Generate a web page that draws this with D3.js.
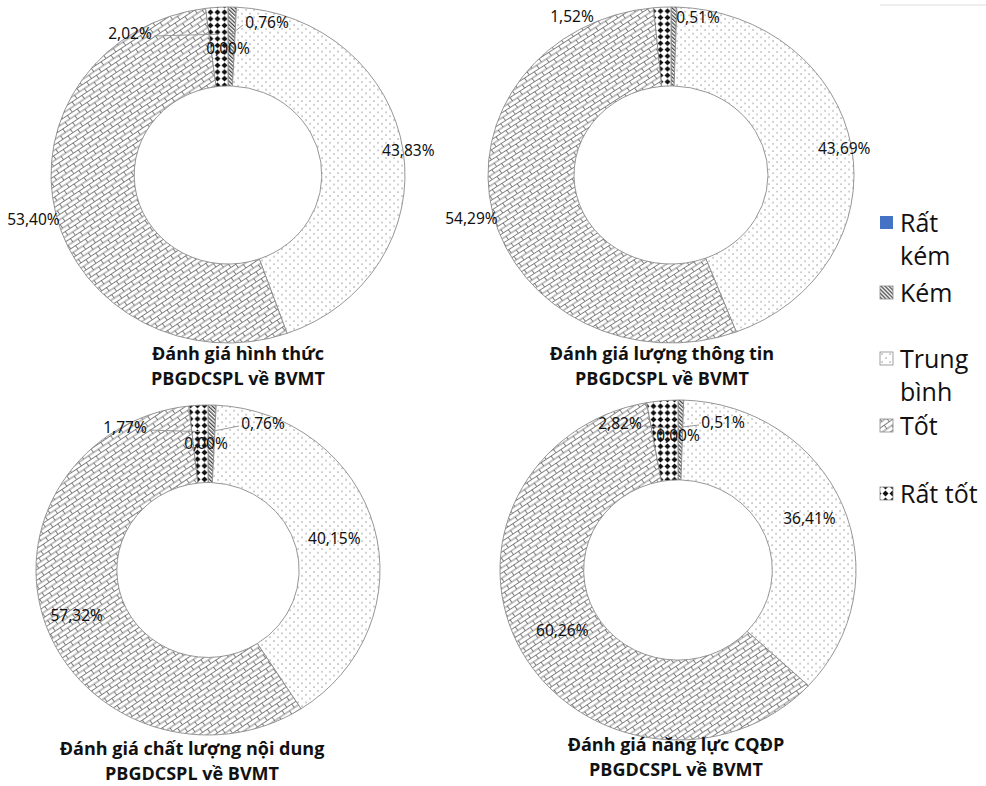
<!DOCTYPE html>
<html>
<head>
<meta charset="utf-8">
<script src="https://cdn.jsdelivr.net/npm/d3@7"></script>
<style>
  html, body { margin: 0; padding: 0; background: #fff; }
  svg { display: block; }
</style>
</head>
<body>
<svg id="chart" width="986" height="786"></svg>
<script>
// Survey ratings, share of answers (%) per rating level
const categories = ["Rất kém", "Kém", "Trung bình", "Tốt", "Rất tốt"];
const hinhThuc      = [0, 0.76, 43.83, 53.40, 2.02];
const luongThongTin = [0, 0.51, 43.69, 54.29, 1.52];
const chatLuong     = [0, 0.76, 40.15, 57.32, 1.77];
const nangLuc       = [0, 0.51, 36.41, 60.26, 2.82];
const chartTitles = [
  ["Đánh giá hình thức", "PBGDCSPL về BVMT"],
  ["Đánh giá lượng thông tin", "PBGDCSPL về BVMT"],
  ["Đánh giá chất lượng nội dung", "PBGDCSPL về BVMT"],
  ["Đánh giá năng lực CQĐP", "PBGDCSPL về BVMT"]
];
const seriesList = [hinhThuc, luongThongTin, chatLuong, nangLuc];

// Placement of each doughnut and its labels
const layout = [
  { cx: 228, cy: 175, rx: 177, ry: 168, bigR: [1.03, 1.13], titleX: 238, titleY: 360,
    small: { 0: [0, -127], 1: [39, -153], 4: [-98, -142] } },
  { cx: 671, cy: 175, rx: 183, ry: 168, bigR: [0.96, 1.12], titleX: 662, titleY: 360,
    small: { 1: [27, -158], 4: [-99, -159] }, hide: [0], noLeader: true },
  { cx: 208, cy: 570, rx: 172, ry: 165, bigR: [0.76, 0.81], titleX: 192, titleY: 755,
    small: { 0: [-2, -127], 1: [55, -147], 4: [-83, -143] } },
  { cx: 678, cy: 570, rx: 178, ry: 170, bigR: [0.80, 0.74], titleX: 676, titleY: 751,
    small: { 0: [0, -135], 1: [45, -148], 4: [-58, -147] } }
];

const svg = d3.select("#chart");
const defs = svg.append("defs");

// Fill patterns for each rating level
function makePatterns() {
  // Kém: dense back-diagonal hatch
  const p1 = defs.append("pattern").attr("id", "pat-kem")
    .attr("patternUnits", "userSpaceOnUse").attr("width", 2.8).attr("height", 2.8)
    .attr("patternTransform", "rotate(-45)");
  p1.append("rect").attr("width", 2.8).attr("height", 2.8).attr("fill", "#fff");
  p1.append("rect").attr("x", 0).attr("y", 0).attr("width", 1.3).attr("height", 2.8)
    .attr("fill", "#444");

  // Trung bình: sparse dots
  const p2 = defs.append("pattern").attr("id", "pat-tb")
    .attr("patternUnits", "userSpaceOnUse").attr("width", 8).attr("height", 8);
  p2.append("rect").attr("width", 8).attr("height", 8).attr("fill", "#fff");
  p2.append("rect").attr("x", 1.5).attr("y", 1.5).attr("width", 1.1).attr("height", 1.1).attr("fill", "#666");
  p2.append("rect").attr("x", 5.5).attr("y", 5.5).attr("width", 1.1).attr("height", 1.1).attr("fill", "#666");

  // Tốt: diagonal brick
  const p3 = defs.append("pattern").attr("id", "pat-tot")
    .attr("patternUnits", "userSpaceOnUse").attr("width", 12).attr("height", 9)
    .attr("patternTransform", "rotate(-35)");
  p3.append("rect").attr("width", 12).attr("height", 9).attr("fill", "#fff");
  const bp = "M0,0.5H12M0,5H12M0.5,0.5V5M6.5,5V9";
  p3.append("path").attr("d", bp).attr("stroke", "#555").attr("stroke-width", 0.75).attr("fill", "none");

  // Rất tốt: solid diamonds
  const p4 = defs.append("pattern").attr("id", "pat-rattot")
    .attr("patternUnits", "userSpaceOnUse").attr("width", 7).attr("height", 7);
  p4.append("rect").attr("width", 7).attr("height", 7).attr("fill", "#fff");
  p4.append("path").attr("d", "M3.5,0.5L6.5,3.5L3.5,6.5L0.5,3.5Z").attr("fill", "#111");
}
makePatterns();

const fills = ["#4472C4", "url(#pat-kem)", "url(#pat-tb)", "url(#pat-tot)", "url(#pat-rattot)"];
const fmt = v => d3.format(".2f")(v).replace(".", ",") + "%";

const pie = d3.pie().sort(null).value(d => d.value);

seriesList.forEach((series, ci) => {
  const L = layout[ci];
  const data = categories.map((c, i) => ({ cat: c, value: series[i], idx: i }));
  const arcs = pie(data);
  const arc = d3.arc().innerRadius(L.rx * 0.53).outerRadius(L.rx);

  // ring drawn at its horizontal radius, squeezed vertically to its height
  const g = svg.append("g")
    .attr("transform", `translate(${L.cx},${L.cy}) scale(1,${L.ry / L.rx})`);

  g.selectAll("path.slice")
    .data(arcs)
    .join("path")
    .attr("class", "slice")
    .attr("d", arc)
    .attr("fill", d => fills[d.data.idx])
    .attr("stroke", "#8a8a8a")
    .attr("stroke-width", 0.9)
    .attr("vector-effect", "non-scaling-stroke");

  // Point on the ring at a given angle and radius fraction, in page coordinates
  const pt = (angle, f) => [L.cx + Math.sin(angle) * L.rx * f, L.cy - Math.cos(angle) * L.ry * f];

  const labels = svg.append("g")
    .attr("font-family", "'Noto Sans', 'Open Sans', sans-serif")
    .attr("font-size", 15.5)
    .attr("fill", "#111");

  arcs.forEach(a => {
    const i = a.data.idx;
    if (L.hide && L.hide.includes(i)) return;
    const mid = (a.startAngle + a.endAngle) / 2;
    let x, y;
    if (i === 2 || i === 3) {
      [x, y] = pt(mid, L.bigR[i - 2]);
    } else {
      const off = L.small[i];
      x = L.cx + off[0];
      y = L.cy + off[1];
      // leader line for labels set apart from their slice
      const target = pt(mid, 0.84);
      const edgeX = x + (target[0] > x ? 24 : -24);
      if (!L.noLeader && Math.abs(target[0] - edgeX) > 10 && (target[0] - x) * (target[0] - edgeX) > 0) {
        labels.append("line")
          .attr("x1", edgeX).attr("y1", y + 3)
          .attr("x2", target[0]).attr("y2", target[1])
          .attr("stroke", "#999").attr("stroke-width", 1);
      }
    }
    labels.append("text")
      .attr("x", x).attr("y", y)
      .attr("text-anchor", "middle")
      .attr("dominant-baseline", "central")
      .text(fmt(a.data.value));
  });

  // Title under each doughnut
  const t = svg.append("text")
    .attr("x", L.titleX).attr("y", L.titleY)
    .attr("text-anchor", "middle")
    .attr("font-family", "'Open Sans', 'Noto Sans', sans-serif")
    .attr("font-weight", 700)
    .attr("font-size", 18)
    .attr("fill", "#111");
  chartTitles[ci].forEach((line, k) => {
    t.append("tspan").attr("x", L.titleX).attr("dy", k === 0 ? 0 : 24.5).text(line);
  });
});

// Legend
const legendRows = [
  { idx: 0, lines: ["Rất", "kém"], y: 222 },
  { idx: 1, lines: ["Kém"], y: 292 },
  { idx: 2, lines: ["Trung", "bình"], y: 358 },
  { idx: 3, lines: ["Tốt"], y: 425 },
  { idx: 4, lines: ["Rất tốt"], y: 493 }
];
const lg = svg.append("g")
  .attr("font-family", "'Open Sans', 'Noto Sans', sans-serif")
  .attr("font-size", 25)
  .attr("fill", "#111");
legendRows.forEach(r => {
  lg.append("rect")
    .attr("x", 880).attr("y", r.y - 6).attr("width", 13).attr("height", 13)
    .attr("fill", fills[r.idx])
    .attr("stroke", r.idx === 0 ? "none" : "#888").attr("stroke-width", 0.8);
  const t = lg.append("text").attr("x", 900).attr("y", r.y).attr("dominant-baseline", "central");
  r.lines.forEach((ln, k) => t.append("tspan").attr("x", 900).attr("dy", k === 0 ? 0 : 33).text(ln));
});

// faint frame edge at the top right
svg.append("line").attr("x1", 880).attr("y1", 5).attr("x2", 986).attr("y2", 5)
  .attr("stroke", "#ddd").attr("stroke-width", 1);
</script>
</body>
</html>
